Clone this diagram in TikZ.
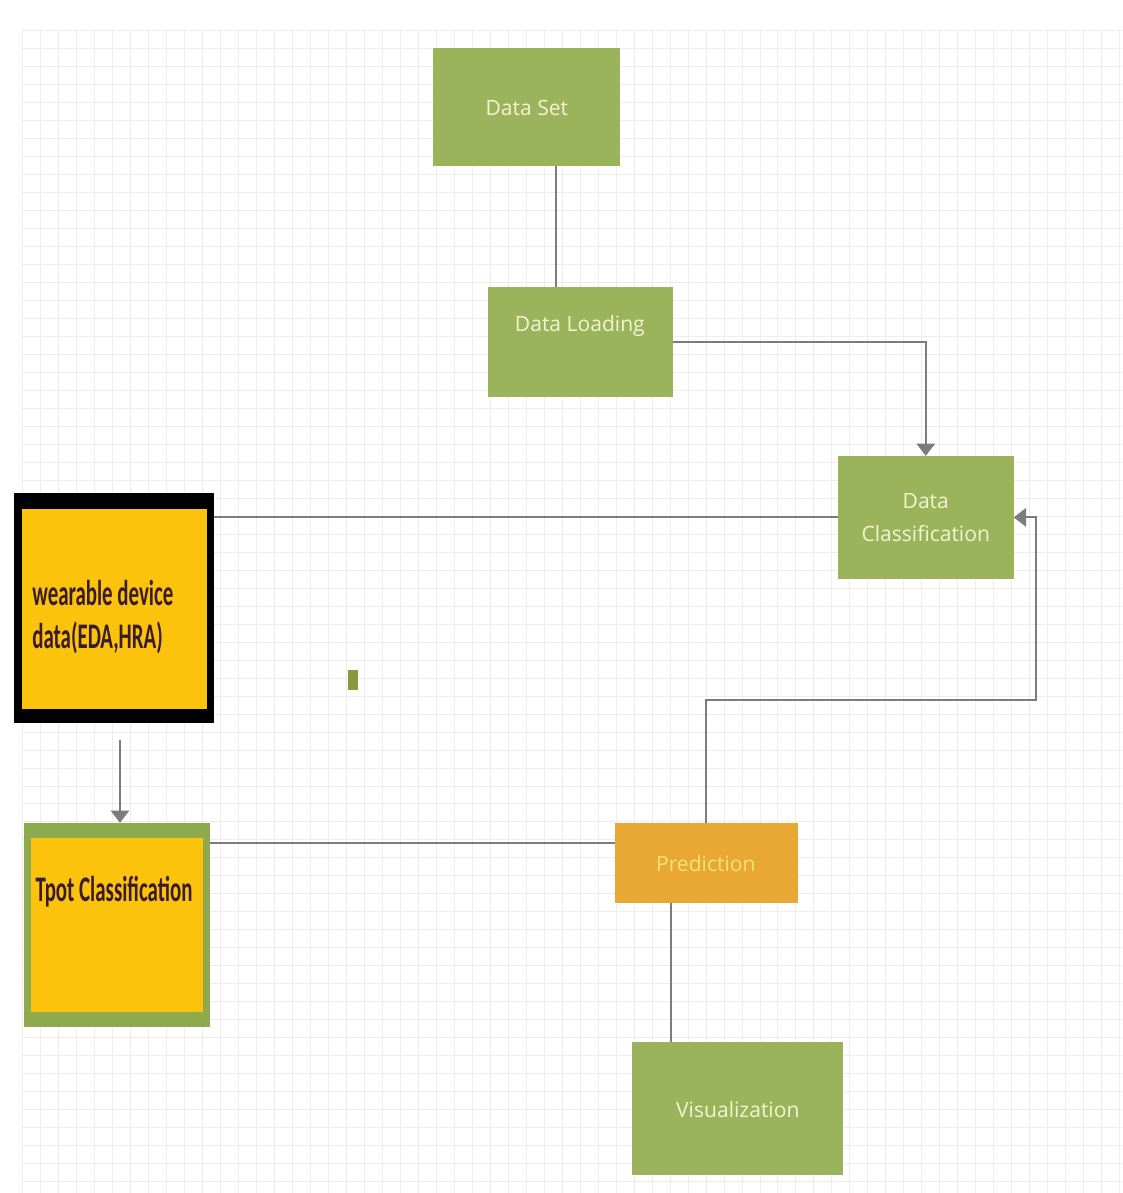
\documentclass[tikz,border=0pt]{standalone}
\usepackage{fontspec}
\usetikzlibrary{arrows.meta,fit,calc}
\newfontfamily\labelfont{Open Sans}
\newfontfamily\notefont{Carlito}[FakeStretch=0.58]
\definecolor{boxgreen}{HTML}{9BB35A}
\definecolor{framegreen}{HTML}{8EAA4C}
\definecolor{boxyellow}{HTML}{FCC30C}
\definecolor{boxorange}{HTML}{E8A833}
\definecolor{labelcream}{HTML}{F1F6D2}
\definecolor{labelgold}{HTML}{F9E46E}
\definecolor{notedark}{HTML}{3A1B2C}
\definecolor{wire}{HTML}{7C7C7C}
\definecolor{gridgray}{HTML}{EDEDED}
\definecolor{markgreen}{HTML}{869A3C}
\tikzset{
  gridline/.style={draw=gridgray, line width=0.35pt},
  panel/.style={inner sep=0pt, outer sep=0pt, draw=none},
  gbox/.style={panel, fill=boxgreen},
  lbl/.style={font=\labelfont\fontsize{12}{18.6}\selectfont, text=labelcream, inner sep=0pt},
  note/.style={font=\notefont\bfseries\fontsize{20.5}{24.5}\selectfont, text=notedark, inner sep=0pt},
  conn/.style={draw=wire, line width=1.1pt},
  tip/.style={-{Triangle[width=10.5pt,length=7pt]}}
}
\begin{document}
\begin{tikzpicture}[x=0.02cm,y=-0.02cm]
  % canvas and faint drawing grid
  \fill[white] (0,0) rectangle (1122,1193);
  \foreach \gx in {22,40,...,1122} \draw[gridline] (\gx,30) -- (\gx,1193);
  \foreach \gy in {30,48,...,1190} \draw[gridline] (22,\gy) -- (1122,\gy);

  % process boxes
  \node[gbox, fit={(433,48) (620,166)}] (ds) {};
  \node[lbl] (dstxt) at (527,108) {Data Set};

  \node[gbox, fit={(488,287) (673,397)}] (dl) {};
  \node[lbl] (dltxt) at (580,326) {Data Loading};

  \node[gbox, fit={(838,456) (1014,579)}] (dc) {};
  \node[lbl, align=center] (dctxt) at (926,518) {Data\\Classification};

  \node[panel, fill=boxorange, fit={(615,823) (798,903)}] (pr) {};
  \node[lbl, text=labelgold] (prtxt) at (706,864) {Prediction};

  \node[gbox, fit={(632,1042) (843,1175)}] (vz) {};
  \node[lbl] (vztxt) at (738,1110) {Visualization};

  % wearable device input (black frame)
  \node[panel, fill=black, fit={(14,493) (214,723)}] (wd) {};
  \node[panel, fill=boxyellow, fit={(22,509) (207,709)}] (wdin) {};
  \node[note, anchor=west, align=left] (wdtxt) at (32,617) {wearable device\\data(EDA,HRA)};

  % TPOT classifier (green frame)
  \node[panel, fill=framegreen, fit={(24,823) (210,1027)}] (tp) {};
  \node[panel, fill=boxyellow, fit={(31,838) (203,1012)}] (tpin) {};
  \node[note] (tptxt) at (114,892) {Tpot Classification};

  % small marker
  \node[panel, fill=markgreen, fit={(348,670) (358,690)}] (mk) {};

  % connector end points offset from the anchors
  \coordinate (dsout) at ($(ds.south)+(30,0)$);
  \coordinate (wdout) at ($(wd.south)+(6,17)$);
  \coordinate (tpout) at ($(tp.north east)+(0,20)$);
  \coordinate (vzin)  at ($(vz.north)+(-66,0)$);

  % connectors
  \draw[conn] (dsout) -- (dsout |- dl.north);
  \draw[conn, tip] (dl.east) -| (dc.north);
  \draw[conn] (dc.west) -- (dc.west -| wd.east);
  \draw[conn, tip] (wdout) -- (wdout |- tp.north);
  \draw[conn] (tpout) -- (tpout -| pr.west);
  \draw[conn, tip] (pr.north) -- ++(0,-123) -| ($(dc.east)+(22,0)$) -- (dc.east);
  \draw[conn] (vzin) -- (vzin |- pr.south);
\end{tikzpicture}
\end{document}
